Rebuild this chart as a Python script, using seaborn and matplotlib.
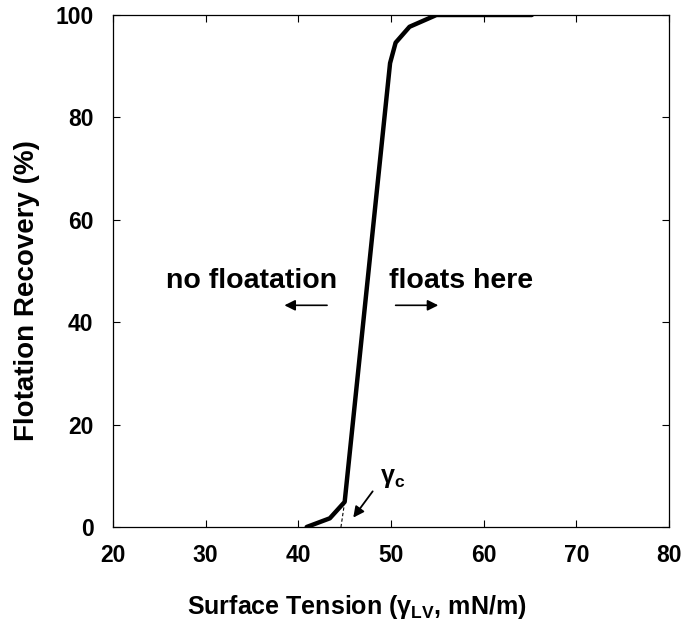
import matplotlib
matplotlib.use("Agg")
import matplotlib.pyplot as plt
import seaborn as sns
import pandas as pd

surface_tension = [40.9, 43.4, 45.0, 49.9, 50.5, 52.0, 54.9, 65.2]
recovery = [0.0, 1.7, 4.9, 90.6, 94.6, 97.7, 100.0, 100.0]
gamma_c_line_x = [45.0, 44.6]
gamma_c_line_y = [4.9, 0.0]
x_ticks = [20, 30, 40, 50, 60, 70, 80]
y_ticks = [0, 20, 40, 60, 80, 100]

sns.set_theme(style="ticks")
plt.rcParams['font.family'] = ['Liberation Sans', 'DejaVu Sans']
plt.rcParams['font.weight'] = 'bold'
plt.rcParams['mathtext.fontset'] = 'custom'
plt.rcParams['mathtext.bf'] = 'Liberation Sans:bold'
plt.rcParams['mathtext.rm'] = 'Liberation Sans:bold'
plt.rcParams['mathtext.default'] = 'bf'
for k in ['text.color', 'axes.labelcolor', 'xtick.color', 'ytick.color', 'axes.edgecolor']:
    plt.rcParams[k] = 'black'

fig = plt.figure(figsize=(6.83, 6.26), dpi=100)
ax = fig.add_axes([113/683, 1 - 527/626, (669-113)/683, (527-15)/626])

df = pd.DataFrame({"x": surface_tension, "y": recovery})
sns.lineplot(data=df, x="x", y="y", sort=False, color="black", linewidth=3.2, ax=ax)
ax.plot(gamma_c_line_x, gamma_c_line_y, color="black", linewidth=0.8, linestyle=(0, (3, 2)))

ax.set_xlim(20, 80)
ax.set_ylim(0, 100)
ax.set_xticks(x_ticks)
ax.set_yticks(y_ticks)
ax.tick_params(direction="in", top=True, right=True, length=5, width=0.8,
               labelsize=16.5, colors="black")
ax.tick_params(axis="x", pad=12)
ax.tick_params(axis="y", pad=14)
for lab in ax.get_xticklabels() + ax.get_yticklabels():
    lab.set_fontweight("bold")
for sp in ax.spines.values():
    sp.set_linewidth(0.9)
    sp.set_color("black")

ax.set_xlabel("Surface Tension (γ$_{LV}$, mN/m)", fontsize=18, fontweight="bold")
ax.set_ylabel("Flotation Recovery (%)", fontsize=20, fontweight="bold")
ax.xaxis.set_label_coords((357-113)/556, (626-607-99)/512)
ax.xaxis.label.set_va("center")
ax.yaxis.set_label_coords((27-113)/556, (626-291-99)/512)
ax.yaxis.label.set_va("center")
ax.yaxis.label.set_ha("center")

ax.text(35.0, 48.0, "no floatation", ha="center", va="center", fontsize=20.5, fontweight="bold")
ax.text(57.6, 48.0, "floats here", ha="center", va="center", fontsize=20.5, fontweight="bold")
ax.annotate("", xy=(38.2, 43.3), xytext=(43.4, 43.3),
            arrowprops=dict(arrowstyle="-|>", color="black", lw=1.2, mutation_scale=16))
ax.annotate("", xy=(55.4, 43.3), xytext=(50.2, 43.3),
            arrowprops=dict(arrowstyle="-|>", color="black", lw=1.2, mutation_scale=16))
ax.annotate("", xy=(45.75, 1.4), xytext=(48.2, 7.4),
            arrowprops=dict(arrowstyle="-|>", color="black", lw=1.3, mutation_scale=16))
ax.text(48.8, 9.6, "γ$_{c}$", ha="left", va="center", fontsize=18, fontweight="bold")

fig.savefig("out.png", dpi=100)
